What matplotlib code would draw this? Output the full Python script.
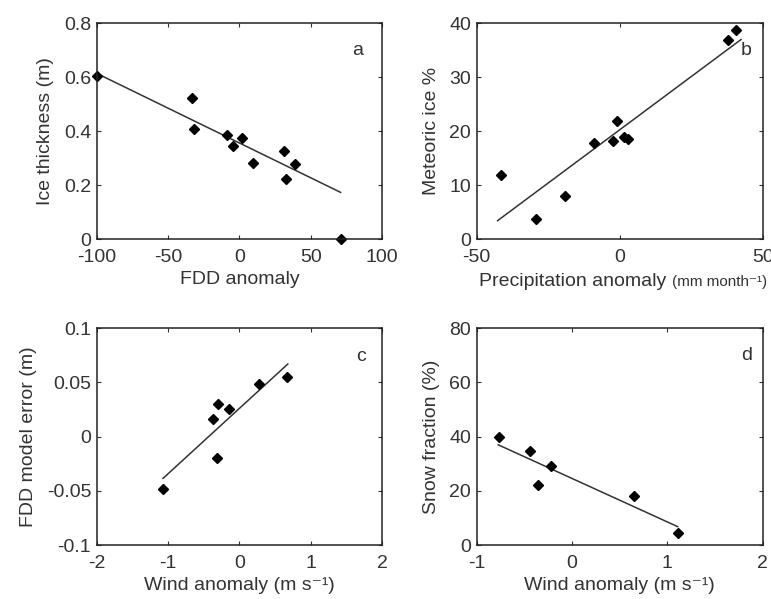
import matplotlib
matplotlib.use('Agg')
import matplotlib.pyplot as plt
import numpy as np

plt.rcParams['font.family'] = ['Liberation Sans', 'DejaVu Sans']
plt.rcParams['font.size'] = 14
plt.rcParams['text.color'] = '#333333'
plt.rcParams['axes.labelcolor'] = '#333333'
plt.rcParams['xtick.color'] = '#333333'
plt.rcParams['ytick.color'] = '#333333'

# Panel a: ice thickness vs FDD anomaly
a_x = [-100, -33, -32, -8.6, -4.4, 1.9, 9.8, 31.2, 32.6, 38.8, 71]
a_y = [0.605, 0.522, 0.408, 0.386, 0.346, 0.376, 0.283, 0.328, 0.221, 0.278, 0.0]
a_fit_x = [-99, 71]
a_fit_y = [0.612, 0.173]

# Panel b: meteoric ice vs precipitation anomaly
b_x = [-41.4, -29.4, -19.2, -9.1, -2.2, -0.9, 1.5, 2.9, 37.7, 40.8]
b_y = [11.9, 3.7, 7.9, 17.9, 18.2, 21.8, 19.0, 18.6, 37.0, 38.8]
b_fit_x = [-42.7, 42.4]
b_fit_y = [3.4, 37.0]

# Panel c: FDD model error vs wind anomaly
c_x = [-1.065, -0.363, -0.298, -0.312, -0.144, 0.279, 0.665]
c_y = [-0.048, 0.016, 0.030, -0.0194, 0.0258, 0.0486, 0.0554]
c_fit_x = [-1.07, 0.68]
c_fit_y = [-0.0385, 0.067]

# Panel d: snow fraction vs wind anomaly
d_x = [-0.763, -0.436, -0.353, -0.22, 0.645, 1.108]
d_y = [39.8, 34.6, 22.1, 29.0, 18.2, 4.6]
d_fit_x = [-0.774, 1.108]
d_fit_y = [37.0, 6.8]

panels = [
    dict(pos=[0.1254, 0.601, 0.370, 0.360], x=a_x, y=a_y, fx=a_fit_x, fy=a_fit_y,
         xlim=(-100, 100), ylim=(0, 0.8), xt=[-100, -50, 0, 50, 100],
         yt=[0, 0.2, 0.4, 0.6, 0.8], xl='FDD anomaly', yl='Ice thickness (m)',
         lbl='a', lx=82.6, ly=0.70),
    dict(pos=[0.6183, 0.601, 0.371, 0.360], x=b_x, y=b_y, fx=b_fit_x, fy=b_fit_y,
         xlim=(-50, 50), ylim=(0, 40), xt=[-50, 0, 50],
         yt=[0, 10, 20, 30, 40], xl=None,
         yl='Meteoric ice %', lbl='b', lx=44.2, ly=35.0),
    dict(pos=[0.1254, 0.090, 0.370, 0.362], x=c_x, y=c_y, fx=c_fit_x, fy=c_fit_y,
         xlim=(-2, 2), ylim=(-0.1, 0.1), xt=[-2, -1, 0, 1, 2],
         yt=[-0.1, -0.05, 0, 0.05, 0.1], xl='Wind anomaly (m s\u207b\u00b9)',
         yl='FDD model error (m)', lbl='c', lx=1.70, ly=0.074),
    dict(pos=[0.6183, 0.090, 0.371, 0.362], x=d_x, y=d_y, fx=d_fit_x, fy=d_fit_y,
         xlim=(-1, 2), ylim=(0, 80), xt=[-1, 0, 1, 2],
         yt=[0, 20, 40, 60, 80], xl='Wind anomaly (m s\u207b\u00b9)',
         yl='Snow fraction (%)', lbl='d', lx=1.83, ly=69.8),
]

fig = plt.figure(figsize=(7.71, 5.99), dpi=100)

for p in panels:
    ax = fig.add_axes(p['pos'])
    ax.plot(p['fx'], p['fy'], color='#333333', lw=1.1)
    ax.plot(p['x'], p['y'], 'D', color='black', ms=5, clip_on=False)
    ax.set_xlim(p['xlim'])
    ax.set_ylim(p['ylim'])
    ax.set_xticks(p['xt'])
    ax.set_yticks(p['yt'])
    ax.set_xticklabels([f'{v:g}' for v in p['xt']])
    ax.set_yticklabels([f'{v:g}' for v in p['yt']])
    ax.tick_params(direction='in', top=True, right=True, length=3, width=0.8)
    ax.tick_params(axis='x', pad=7)
    ax.tick_params(axis='y', pad=4)
    for s in ax.spines.values():
        s.set_color('#222222')
        s.set_linewidth(1.1)
    if p['xl'] is not None:
        ax.set_xlabel(p['xl'], labelpad=4)
    else:
        # precipitation label: units in a smaller size
        ax.annotate('Precipitation anomaly ', xy=(0.683, 0), xycoords='axes fraction',
                    xytext=(0, -34), textcoords='offset points',
                    ha='right', va='baseline', fontsize=14)
        ax.annotate('(mm month\u207b\u00b9)', xy=(0.683, 0), xycoords='axes fraction',
                    xytext=(0, -34), textcoords='offset points',
                    ha='left', va='baseline', fontsize=11)
    ax.set_ylabel(p['yl'], labelpad=7)
    ax.text(p['lx'], p['ly'], p['lbl'], ha='center', va='center', fontsize=14)

plt.savefig('out.png', dpi=100)
